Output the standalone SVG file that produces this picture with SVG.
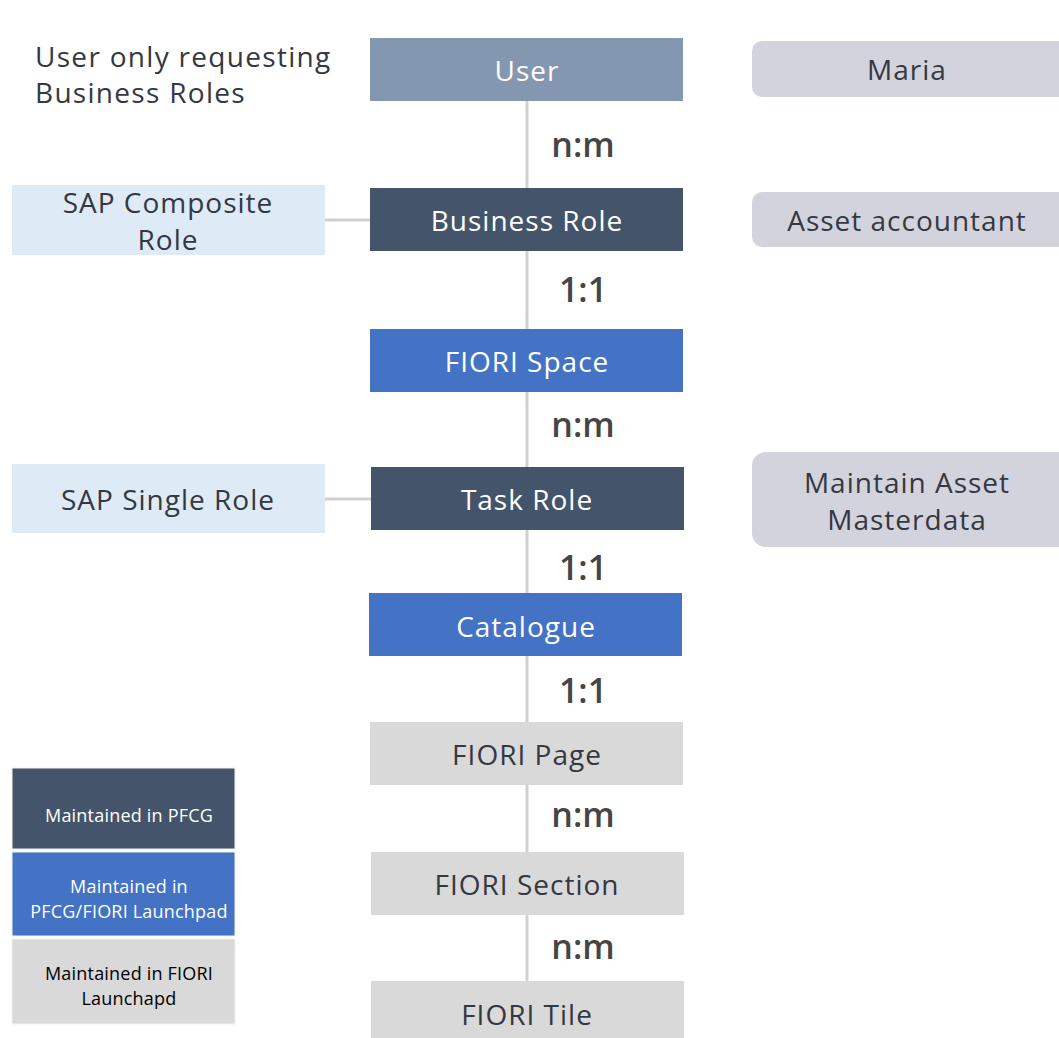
<svg xmlns="http://www.w3.org/2000/svg" width="1059" height="1038" viewBox="0 0 1059 1038">
<style>
.t{font-family:"Open Sans","Liberation Sans",sans-serif;font-size:28px;letter-spacing:1px;text-anchor:middle}
.w{fill:#ffffff}
.d{fill:#333842}
.lbl{font-family:"Open Sans","Liberation Sans",sans-serif;font-size:34px;font-weight:600;fill:#454545;text-anchor:middle}
.leg{font-family:"Open Sans","Liberation Sans",sans-serif;font-size:18px;letter-spacing:0.2px;text-anchor:middle}
.conn{stroke:#D0D0D2;stroke-width:3;fill:none}
.side{fill:#D3D3DD}
.sap{fill:#DEEAF6}
</style>
<rect width="1059" height="1038" fill="#ffffff"/>
<g id="connectors">
<line class="conn" x1="527" y1="101" x2="527" y2="188"/>
<line class="conn" x1="527" y1="251" x2="527" y2="329"/>
<line class="conn" x1="527" y1="392" x2="527" y2="467"/>
<line class="conn" x1="527" y1="530" x2="527" y2="593"/>
<line class="conn" x1="527" y1="656" x2="527" y2="722"/>
<line class="conn" x1="527" y1="785" x2="527" y2="852"/>
<line class="conn" x1="527" y1="915" x2="527" y2="981"/>
<line class="conn" x1="325" y1="220" x2="370" y2="220"/>
<line class="conn" x1="325" y1="499" x2="371" y2="499"/>
<text class="lbl" x="583" y="157">n:m</text>
<text class="lbl" x="583" y="302">1:1</text>
<text class="lbl" x="583" y="437">n:m</text>
<text class="lbl" x="583" y="580">1:1</text>
<text class="lbl" x="583" y="703">1:1</text>
<text class="lbl" x="583" y="827">n:m</text>
<text class="lbl" x="583" y="959">n:m</text>
</g>
<g id="intro">
<text class="t d" x="35" y="67" style="text-anchor:start;letter-spacing:1.3px">User only requesting</text>
<text class="t d" x="35" y="103" style="text-anchor:start;letter-spacing:1.3px">Business Roles</text>
</g>
<g id="user"><rect x="370" y="38" width="313" height="63" fill="#8497B0"/><text class="t w" x="527" y="81">User</text></g>
<g id="business-role"><rect x="370" y="188" width="313" height="63" fill="#44546A"/><text class="t w" x="527" y="231">Business Role</text></g>
<g id="fiori-space"><rect x="370" y="329" width="313" height="63" fill="#4472C4"/><text class="t w" x="527" y="372">FIORI Space</text></g>
<g id="task-role"><rect x="371" y="467" width="313" height="63" fill="#44546A"/><text class="t w" x="527" y="510">Task Role</text></g>
<g id="catalogue"><rect x="369" y="593" width="313" height="63" fill="#4472C4"/><text class="t w" x="526" y="637">Catalogue</text></g>
<g id="fiori-page"><rect x="370" y="722" width="313" height="63" fill="#D9D9D9"/><text class="t d" x="527" y="765">FIORI Page</text></g>
<g id="fiori-section"><rect x="371" y="852" width="313" height="63" fill="#D9D9D9"/><text class="t d" x="527" y="895">FIORI Section</text></g>
<g id="fiori-tile"><rect x="371" y="981" width="313" height="60" fill="#D9D9D9"/><text class="t d" x="527" y="1025">FIORI Tile</text></g>
<g id="sap-composite"><rect class="sap" x="12" y="185" width="313" height="70"/><text class="t d" x="168" y="213">SAP Composite</text><text class="t d" x="168" y="250">Role</text></g>
<g id="sap-single"><rect class="sap" x="12" y="464" width="313" height="69"/><text class="t d" x="168" y="510">SAP Single Role</text></g>
<g id="maria"><rect class="side" x="752" y="41" width="320" height="56" rx="10"/><text class="t d" x="907" y="80">Maria</text></g>
<g id="asset-accountant"><rect class="side" x="752" y="192" width="320" height="55" rx="10"/><text class="t d" x="907" y="231">Asset accountant</text></g>
<g id="maintain-asset"><rect class="side" x="752" y="452" width="320" height="95" rx="14"/><text class="t d" x="907" y="493">Maintain Asset</text><text class="t d" x="907" y="530">Masterdata</text></g>
<g id="legend-pfcg"><rect x="12" y="768" width="223" height="81" fill="#44546A" stroke="#f2f2f2" stroke-width="1"/><text class="leg" x="129" y="822" fill="#ffffff">Maintained in PFCG</text></g>
<g id="legend-pfcg-fiori"><rect x="12" y="852" width="223" height="84" fill="#4472C4" stroke="#f2f2f2" stroke-width="1"/><text class="leg" x="129" y="893" fill="#ffffff">Maintained in</text><text class="leg" x="129" y="918" fill="#ffffff">PFCG/FIORI Launchpad</text></g>
<g id="legend-fiori"><rect x="12" y="939" width="223" height="85" fill="#D9D9D9" stroke="#f2f2f2" stroke-width="1"/><text class="leg" x="129" y="980" fill="#000000">Maintained in FIORI</text><text class="leg" x="129" y="1005" fill="#000000">Launchapd</text></g>
</svg>
